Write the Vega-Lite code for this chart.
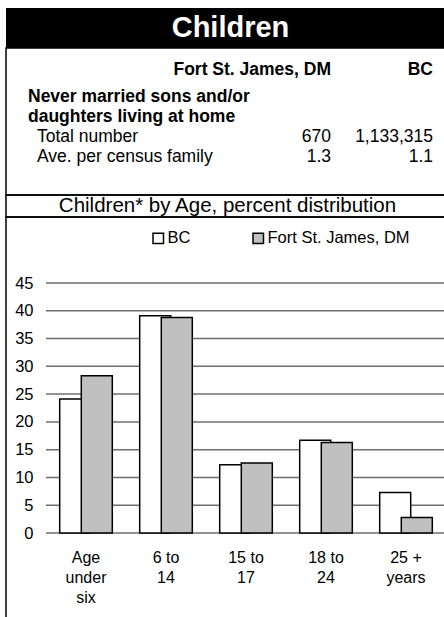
{
  "$schema": "https://vega.github.io/schema/vega-lite/v6.json",
  "padding": {"left": 5, "top": 8, "right": 0, "bottom": 0},
  "spacing": 0,
  "bounds": "flush",
  "config": {"font": "Liberation Sans", "view": {"stroke": null}},
  "datasets": {
    "bars": [
      {"age": "Age under six", "region": "BC", "pct": 24.1},
      {"age": "Age under six", "region": "Fort St. James, DM", "pct": 28.3},
      {"age": "6 to 14", "region": "BC", "pct": 39.1},
      {"age": "6 to 14", "region": "Fort St. James, DM", "pct": 38.8},
      {"age": "15 to 17", "region": "BC", "pct": 12.3},
      {"age": "15 to 17", "region": "Fort St. James, DM", "pct": 12.6},
      {"age": "18 to 24", "region": "BC", "pct": 16.7},
      {"age": "18 to 24", "region": "Fort St. James, DM", "pct": 16.3},
      {"age": "25 + years", "region": "BC", "pct": 7.3},
      {"age": "25 + years", "region": "Fort St. James, DM", "pct": 2.8}
    ],
    "grid": [{"v": 0}, {"v": 5}, {"v": 10}, {"v": 15}, {"v": 20}, {"v": 25}, {"v": 30}, {"v": 35}, {"v": 40}, {"v": 45}],
    "rows": [
      {"line": "Never married sons and/or", "level": "heading"},
      {"line": "daughters living at home", "level": "heading"},
      {"line": "Total number", "level": "item"},
      {"line": "Ave. per census family", "level": "item"}
    ],
    "table": [
      {"item": "Total number", "area": "Fort St. James, DM", "value": "670"},
      {"item": "Total number", "area": "BC", "value": "1,133,315"},
      {"item": "Ave. per census family", "area": "Fort St. James, DM", "value": "1.3"},
      {"item": "Ave. per census family", "area": "BC", "value": "1.1"}
    ]
  },
  "vconcat": [
    {
      "width": 449,
      "height": 40,
      "view": {"fill": "#000000", "stroke": null},
      "data": {"values": [{"label": "Children"}]},
      "mark": {"type": "text", "color": "#ffffff", "fontSize": 29, "fontWeight": "bold", "baseline": "middle", "align": "center"},
      "encoding": {"text": {"field": "label", "type": "nominal"}}
    },
    {
      "width": 449,
      "height": 147,
      "view": {"stroke": "#000000", "strokeWidth": 1.5},
      "resolve": {"scale": {"x": "independent"}},
      "layer": [
        {
          "data": {"name": "table"},
          "transform": [{"filter": "datum.item == 'Total number'"}],
          "mark": {"type": "text", "fontSize": 17.5, "fontWeight": "bold", "align": "right", "baseline": "middle", "dy": -7, "color": "#000000"},
          "encoding": {
            "x": {"field": "area", "type": "nominal", "scale": {"type": "point", "domain": ["Fort St. James, DM", "BC"], "range": [325, 427], "padding": 0}, "axis": null},
            "y": {"datum": "columns", "type": "nominal", "scale": {"type": "point", "domain": ["columns", "Never married sons and/or", "daughters living at home", "Total number", "Ave. per census family"], "range": [29, 109], "padding": 0}, "axis": null},
            "text": {"field": "area", "type": "nominal"}
          }
        },
        {
          "data": {"name": "rows"},
          "transform": [{"filter": "datum.level == 'heading'"}],
          "mark": {"type": "text", "fontSize": 17.5, "fontWeight": "bold", "align": "left", "baseline": "middle", "color": "#000000"},
          "encoding": {
            "x": {"field": "level", "type": "nominal", "scale": {"type": "point", "domain": ["heading", "item"], "range": [22, 31], "padding": 0}, "axis": null},
            "y": {"field": "line", "type": "nominal", "axis": null},
            "text": {"field": "line", "type": "nominal"}
          }
        },
        {
          "data": {"name": "rows"},
          "transform": [{"filter": "datum.level == 'item'"}],
          "mark": {"type": "text", "fontSize": 17.5, "align": "left", "baseline": "middle", "color": "#000000"},
          "encoding": {
            "x": {"field": "level", "type": "nominal", "scale": {"type": "point", "domain": ["heading", "item"], "range": [22, 31], "padding": 0}, "axis": null},
            "y": {"field": "line", "type": "nominal", "axis": null},
            "text": {"field": "line", "type": "nominal"}
          }
        },
        {
          "data": {"name": "table"},
          "mark": {"type": "text", "fontSize": 17.5, "align": "right", "baseline": "middle", "color": "#000000"},
          "encoding": {
            "x": {"field": "area", "type": "nominal", "scale": {"type": "point", "domain": ["Fort St. James, DM", "BC"], "range": [325, 427], "padding": 0}, "axis": null},
            "y": {"field": "item", "type": "nominal", "axis": null},
            "text": {"field": "value", "type": "nominal"}
          }
        }
      ]
    },
    {
      "width": 449,
      "height": 22,
      "view": {"stroke": "#000000", "strokeWidth": 1.5},
      "data": {"values": [{"label": "Children* by Age, percent distribution"}]},
      "mark": {"type": "text", "fontSize": 20.5, "baseline": "middle", "align": "center", "dx": -3, "color": "#000000"},
      "encoding": {"text": {"field": "label", "type": "nominal"}}
    },
    {
      "width": 449,
      "height": 402,
      "view": {"stroke": "#000000", "strokeWidth": 1.5},
      "layer": [
        {
          "data": {"name": "grid"},
          "mark": {"type": "rule", "color": "#6e6e6e", "strokeWidth": 1.5},
          "encoding": {
            "x": {"datum": "Age under six", "type": "nominal", "bandPosition": 0, "title": null,
              "scale": {"type": "band", "domain": ["Age under six", "6 to 14", "15 to 17", "18 to 24", "25 + years"], "paddingInner": 0, "paddingOuter": 0.30625, "align": 0.8163},
              "axis": {"orient": "bottom", "offset": -86, "domain": false, "ticks": false, "grid": false, "labelPadding": 16, "labelFontSize": 16, "labelColor": "#000000", "labelLineHeight": 20, "labelAngle": 0, "labelBaseline": "top",
                "labelExpr": "datum.value == 'Age under six' ? ['Age', 'under', 'six'] : [slice(datum.value, 0, lastindexof(datum.value, ' ')), slice(datum.value, lastindexof(datum.value, ' ') + 1)]"}},
            "x2": {"value": "width"},
            "y": {"field": "v", "type": "quantitative", "title": null,
              "scale": {"domain": [-15.48, 56.88], "nice": false, "zero": false},
              "axis": {"orient": "left", "offset": -40, "values": [0, 5, 10, 15, 20, 25, 30, 35, 40, 45], "domain": false, "ticks": false, "grid": false, "labelPadding": 13, "labelFontSize": 16.5, "labelColor": "#000000"}}
          }
        },
        {
          "data": {"name": "bars"},
          "transform": [{"filter": "datum.region == 'BC'"}],
          "mark": {"type": "bar", "width": 31, "xOffset": -10.8, "stroke": "#000000", "strokeWidth": 1.5},
          "encoding": {
            "x": {"field": "age", "type": "nominal", "title": null},
            "y": {"field": "pct", "type": "quantitative", "title": null, "stack": null},
            "y2": {"datum": 0},
            "fill": {"field": "region", "type": "nominal",
              "scale": {"domain": ["BC", "Fort St. James, DM"], "range": ["#ffffff", "#c0c0c0"]},
              "legend": {"orient": "none", "legendX": 144, "legendY": 222, "direction": "horizontal", "title": null, "symbolType": "square", "symbolSize": 110, "symbolStrokeColor": "#000000", "symbolStrokeWidth": 1.5, "labelFontSize": 16.5, "labelColor": "#000000", "labelOffset": 1, "columnPadding": 59, "padding": 0}}
          }
        },
        {
          "data": {"name": "bars"},
          "transform": [{"filter": "datum.region == 'Fort St. James, DM'"}],
          "mark": {"type": "bar", "width": 31, "xOffset": 10.8, "stroke": "#000000", "strokeWidth": 1.5},
          "encoding": {
            "x": {"field": "age", "type": "nominal", "title": null},
            "y": {"field": "pct", "type": "quantitative", "title": null, "stack": null},
            "y2": {"datum": 0},
            "fill": {"field": "region", "type": "nominal"}
          }
        }
      ]
    }
  ]
}
